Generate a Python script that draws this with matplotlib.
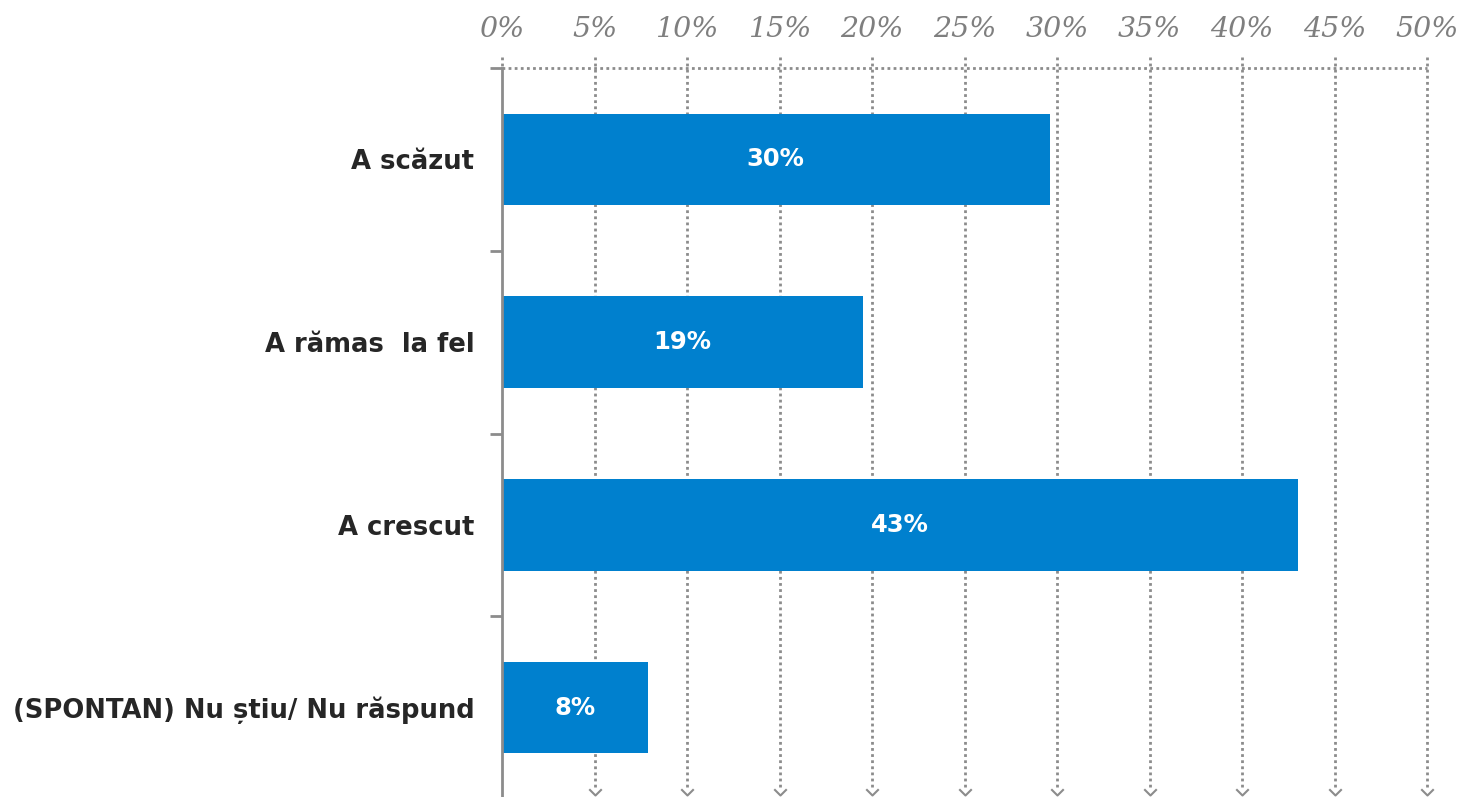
import matplotlib.pyplot as plt
import matplotlib.path as mpath
import numpy as np

categories = ['A scăzut', 'A rămas  la fel', 'A crescut', '(SPONTAN) Nu știu/ Nu răspund']
values = [29.6, 19.5, 43.0, 7.9]
value_labels = ['30%', '19%', '43%', '8%']
xticks = [0, 5, 10, 15, 20, 25, 30, 35, 40, 45, 50]
xtick_labels = ['%d%%' % t for t in xticks]

bar_color = '#0080CE'
grid_color = '#8C8C8C'

fig = plt.figure(figsize=(14.6, 7.97), dpi=100)
ax = fig.add_axes([502 / 1460, -2 / 797, 925 / 1460, 731 / 797])

y = np.arange(len(categories))
ax.barh(y, values, height=0.5, color=bar_color, zorder=3)
for yi, v, lab in zip(y, values, value_labels):
    ax.text(v / 2, yi, lab, ha='center', va='center', color='white',
            fontsize=17.5, fontweight='bold', family='DejaVu Sans', zorder=4)

ax.set_xlim(0, 50)
ax.set_ylim(len(categories) - 0.5, -0.5)

# dotted grid lines, slightly above the top edge, with chevrons at the bottom
trans = ax.get_xaxis_transform()
chevron = mpath.Path([(-1, 1), (0, 0), (1, 1)],
                     [mpath.Path.MOVETO, mpath.Path.LINETO, mpath.Path.LINETO])
for t in xticks:
    bottom = 0.012 if t > 0 else 1.0
    ax.plot([t, t], [1 + 11 / 731, bottom], transform=trans, color=grid_color,
            ls=(0, (1, 1.2)), lw=2, clip_on=False, zorder=1)
    if t > 0:
        ax.plot([t], [0.006], transform=trans, marker=chevron, markersize=9,
                markerfacecolor='none', markeredgecolor=grid_color,
                markeredgewidth=1.5, clip_on=False, zorder=1)
ax.plot([0, 50], [1, 1], transform=trans, color=grid_color,
        ls=(0, (1, 1.2)), lw=2, clip_on=False, zorder=1)

for s in ['top', 'right', 'bottom']:
    ax.spines[s].set_visible(False)
ax.spines['left'].set_color('#8C8C8C')
ax.spines['left'].set_linewidth(2)
ax.spines['left'].set_zorder(5)

ax.xaxis.tick_top()
ax.set_xticks(xticks)
ax.set_xticklabels(xtick_labels, fontsize=20.5, style='italic',
                   family='DejaVu Serif', color='#7F7F7F')
ax.tick_params(axis='x', length=0, pad=18)

ax.set_yticks(y)
ax.set_yticklabels(categories, fontsize=18.6, fontweight='bold',
                   family='DejaVu Sans', color='#262626')
ax.set_yticks(np.arange(-0.5, len(categories), 1), minor=True)
ax.tick_params(axis='y', which='major', length=0, pad=20)
ax.tick_params(axis='y', which='minor', length=9, width=2, color='#8C8C8C')

fig.savefig('out.png', dpi=100)
